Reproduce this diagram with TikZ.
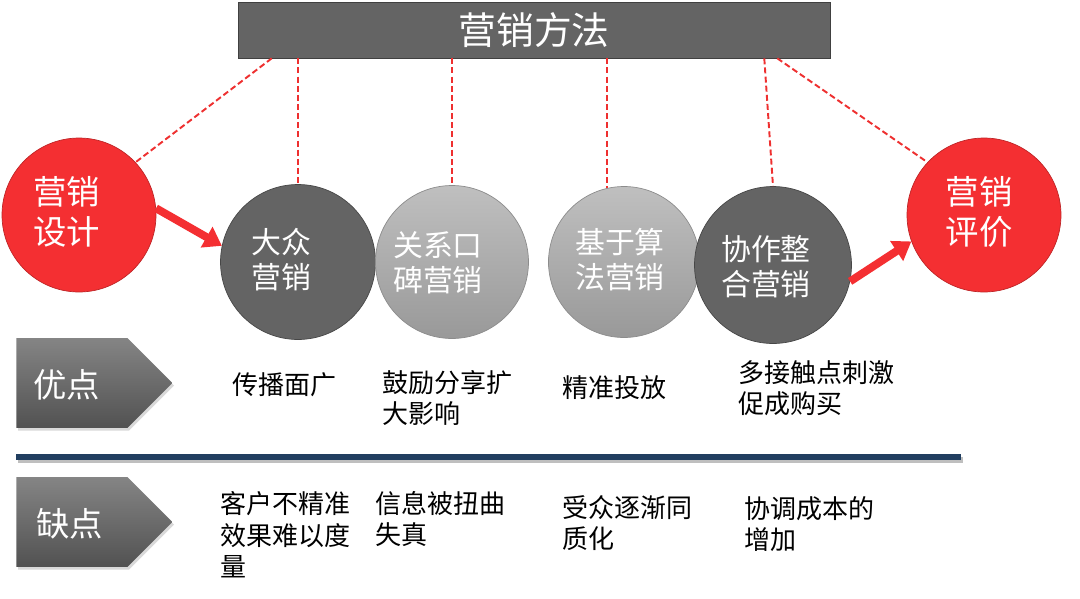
\documentclass[tikz,border=0pt]{standalone}
\usepackage{fontspec}
\setmainfont{Noto Sans CJK SC}
\usetikzlibrary{arrows.meta,positioning,calc,shapes.symbols,shadows}
\definecolor{mktred}{RGB}{244,47,50}
\definecolor{mktredline}{RGB}{190,36,38}
\definecolor{darkgrey}{RGB}{100,100,100}
\definecolor{dashred}{RGB}{238,48,48}
\definecolor{navyline}{RGB}{33,62,96}

\begin{document}
\begin{tikzpicture}[x=0.02cm,y=-0.02cm,
    redball/.style={circle,draw=mktredline,fill=mktred,minimum size=3.08cm,inner sep=0pt},
    darkball/.style={circle,draw=black!72,fill=darkgrey,minimum size=3.1cm,inner sep=0pt},
    lightball/.style={circle,draw=black!45,top color=black!25,bottom color=black!40,minimum size=3.06cm,inner sep=0pt},
    balltext/.style={text=white,align=left,font=\fontsize{17}{20}\selectfont,inner sep=0pt},
    redtext/.style={text=white,align=left,font=\fontsize{19}{22.7}\selectfont,inner sep=0pt},
    tag/.style={signal,signal to=east,signal pointer angle=90,minimum width=3.12cm,minimum height=1.8cm,
                inner sep=0pt,top color=black!48,bottom color=black!68,
                drop shadow={opacity=0.3,shadow xshift=1pt,shadow yshift=-1.5pt}},
    tagtext/.style={text=white,font=\fontsize{19}{22}\selectfont,inner sep=0pt},
    note/.style={anchor=west,align=left,font=\fontsize{14.8}{18}\selectfont,inner sep=0pt},
    link/.style={draw=dashred,line width=1.1pt,dash pattern=on 3.4pt off 1.8pt},
    push/.style={draw=mktred,line width=4.5pt,-{Triangle[length=10pt,width=13pt]}}]
  \useasboundingbox (0,0) rectangle (1080,599);

  % title bar
  \node[draw=black!75,fill=darkgrey,minimum width=11.84cm,minimum height=1.12cm,inner sep=0pt,
        text=white,font=\fontsize{21.5}{24}\selectfont] (title) at (534,30) {营销方法};

  % design and evaluation
  \node[redball] (design) at (79,215) {};
  \node[redtext] (designtext) at (67,212) {营销\\设计};
  \node[redball] (eval) at (984,215) {};
  \node[redtext] (evaltext) at (979,212) {营销\\评价};

  % methods
  \node[darkball] (mass) at (298,262) {};
  \node[balltext] (masstext) at (281,260) {大众\\营销};
  \node[lightball] (wom) at (452,262) {};
  \node[balltext] (womtext) at (438,263) {关系口\\碑营销};
  \node[lightball,minimum size=3.02cm] (algo) at (624,262) {};
  \node[balltext] (algotext) at (620,260) {基于算\\法营销};
  \node[darkball,minimum size=3.14cm] (integ) at (773,265) {};
  \node[balltext] (integtext) at (766,267) {协作整\\合营销};

  % dashed links
  \draw[link] ($(title.south west)+(34,0)$) -- (design.43);
  \draw[link] (mass.north |- title.south) -- (mass.north);
  \draw[link] (wom.north |- title.south) -- (wom.north);
  \draw[link] (algo.103 |- title.south) -- (algo.103);
  \draw[link] ($(title.south east)+(-66,0)$) -- (integ.north);
  \draw[link] ($(title.south east)+(-53,0)$) -- (eval.137);

  % flow arrows
  \draw[push] (design.5) -- (mass.168);
  \draw[push] (integ.-12) -- (eval.200);

  % pros
  \node[tag,anchor=west] (protag) at (16,383) {};
  \node[tagtext] (protext) at (67,385) {优点};
  \node[note] (pro1) at (232,385) {传播面广};
  \node[note] (pro2) at (382,398) {鼓励分享扩\\大影响};
  \node[note] (pro3) at (562,388) {精准投放};
  \node[note] (pro4) at (738,388) {多接触点刺激\\促成购买};

  % divider
  \draw[line width=3.4pt,black!25] (18,460) -- (963,460);
  \draw[line width=3.4pt,navyline] (16,457) -- (961,457);

  % cons
  \node[tag,anchor=west] (contag) at (16,522) {};
  \node[tagtext] (context) at (70,524) {缺点};
  \node[note] (con1) at (220,535) {客户不精准\\效果难以度\\量};
  \node[note] (con2) at (375,519) {信息被扭曲\\失真};
  \node[note] (con3) at (562,523) {受众逐渐同\\质化};
  \node[note] (con4) at (744,524) {协调成本的\\增加};
\end{tikzpicture}
\end{document}
